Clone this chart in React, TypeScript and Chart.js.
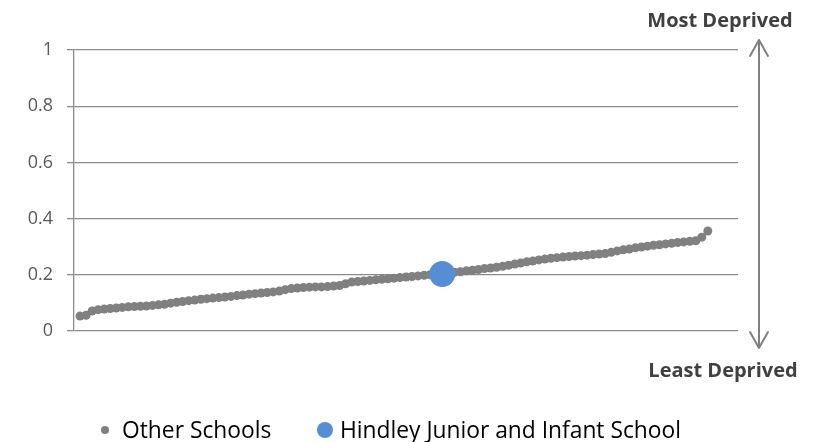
import React, { useEffect, useRef } from "react";
import { Chart, registerables } from "chart.js";

Chart.register(...registerables);

// ---- data ----
const seriesNames: string[] = ["Other Schools", "Hindley Junior and Infant School"];
const otherSchools: number[] = [
  0.053, 0.056, 0.071, 0.076, 0.078, 0.080, 0.082, 0.084, 0.086, 0.087,
  0.088, 0.089, 0.091, 0.093, 0.095, 0.099, 0.102, 0.105, 0.108, 0.110,
  0.113, 0.115, 0.117, 0.119, 0.121, 0.123, 0.126, 0.128, 0.131, 0.133,
  0.135, 0.137, 0.139, 0.142, 0.147, 0.151, 0.153, 0.155, 0.156, 0.157,
  0.157, 0.158, 0.160, 0.162, 0.168, 0.174, 0.176, 0.178, 0.180, 0.182,
  0.184, 0.186, 0.188, 0.190, 0.192, 0.194, 0.196, 0.198, 0.200, 0.201,
  0.203, 0.206, 0.209, 0.211, 0.214, 0.216, 0.219, 0.222, 0.224, 0.227,
  0.230, 0.234, 0.238, 0.242, 0.246, 0.249, 0.253, 0.256, 0.259, 0.261,
  0.263, 0.265, 0.267, 0.268, 0.270, 0.272, 0.274, 0.276, 0.280, 0.285,
  0.289, 0.292, 0.296, 0.299, 0.302, 0.305, 0.307, 0.310, 0.312, 0.315,
  0.317, 0.319, 0.321, 0.334, 0.356,
];
const hindleyRank: number[] = [61];
const hindleyValue: number[] = [0.203];
const yTicks: number[] = [0, 0.2, 0.4, 0.6, 0.8, 1];
const xRange: number[] = [0, 110];
const topLabel = "Most Deprived";
const bottomLabel = "Least Deprived";

const GREY = "#808080";
const BLUE = "#558ed5";
const FONT = "'Open Sans', sans-serif";

const arrowPlugin = {
  id: "deprivationArrow",
  afterDraw(chart: any) {
    const { ctx, chartArea } = chart;
    const ys = chart.scales.y;
    const x = chartArea.right + 21;
    const top = ys.getPixelForValue(yTicks[yTicks.length - 1]) - 10;
    const bottom = ys.getPixelForValue(yTicks[0]) + 17;
    ctx.save();
    ctx.strokeStyle = GREY;
    ctx.lineWidth = 2;
    ctx.lineCap = "round";
    ctx.lineJoin = "round";
    ctx.beginPath();
    ctx.moveTo(x, top);
    ctx.lineTo(x, bottom);
    ctx.moveTo(x - 9, top + 16);
    ctx.lineTo(x, top);
    ctx.lineTo(x + 9, top + 16);
    ctx.moveTo(x - 9, bottom - 16);
    ctx.lineTo(x, bottom);
    ctx.lineTo(x + 9, bottom - 16);
    ctx.stroke();
    ctx.restore();
  },
};

export default function App() {
  const canvasRef = useRef<HTMLCanvasElement | null>(null);

  useEffect(() => {
    if (!canvasRef.current) return;
    const chart = new Chart(canvasRef.current, {
      type: "scatter",
      data: {
        datasets: [
          {
            label: seriesNames[1],
            data: hindleyRank.map((r, i) => ({ x: r, y: hindleyValue[i] })),
            backgroundColor: BLUE,
            borderColor: BLUE,
            pointRadius: 13,
            pointHoverRadius: 13,
            borderWidth: 0,
            order: 0,
          },
          {
            label: seriesNames[0],
            data: otherSchools.map((v, i) => ({ x: i + 1, y: v })),
            backgroundColor: GREY,
            borderColor: GREY,
            pointRadius: 4.5,
            pointHoverRadius: 4.5,
            borderWidth: 0,
            order: 1,
          },
        ],
      },
      options: {
        animation: false,
        responsive: false,
        layout: { padding: { left: 0, right: 80, top: 50, bottom: 111 } },
        plugins: {
          legend: { display: false },
          tooltip: { enabled: false },
        },
        scales: {
          x: { type: "linear", min: xRange[0], max: xRange[1], display: false },
          y: {
            min: yTicks[0],
            max: yTicks[yTicks.length - 1],
            afterBuildTicks: (axis: any) => {
              axis.ticks = yTicks.map((v) => ({ value: v }));
            },
            afterFit: (axis: any) => {
              axis.width = 74;
            },
            ticks: {
              color: "#595959",
              padding: 14,
              font: { family: FONT, size: 18 },
              callback: (v: any) => String(Math.round(Number(v) * 10) / 10),
            },
            grid: { color: "#8c8c8c", lineWidth: 1.3, tickLength: 7, drawTicks: true },
            border: { display: true, color: "#8c8c8c", width: 1.3 },
          },
        },
      },
      plugins: [arrowPlugin],
    });
    return () => chart.destroy();
  }, []);

  const txt = (extra: any) => ({
    position: "absolute" as const,
    fontFamily: FONT,
    lineHeight: 1,
    whiteSpace: "nowrap" as const,
    ...extra,
  });

  return (
    <div style={{ position: "absolute", left: 0, top: 0, width: 818, height: 442, background: "#fff", overflow: "hidden" }}>
      <canvas ref={canvasRef} width={818} height={442} style={{ position: "absolute", left: 0, top: 0 }} />
      <div style={txt({ left: 620, width: 200, top: 9.5, textAlign: "center", fontSize: 20, fontWeight: 700, color: "#404040" })}>{topLabel}</div>
      <div style={txt({ left: 623, width: 200, top: 359.5, textAlign: "center", fontSize: 20, fontWeight: 700, color: "#404040" })}>{bottomLabel}</div>
      <div style={{ position: "absolute", left: 101, top: 426, width: 8, height: 8, borderRadius: "50%", background: GREY }} />
      <div style={txt({ left: 122, top: 418.5, fontSize: 22.8, color: "#000" })}>{seriesNames[0]}</div>
      <div style={{ position: "absolute", left: 317, top: 421.5, width: 16, height: 16, borderRadius: "50%", background: BLUE }} />
      <div style={txt({ left: 340, top: 418.5, fontSize: 22.8, color: "#000" })}>{seriesNames[1]}</div>
    </div>
  );
}
